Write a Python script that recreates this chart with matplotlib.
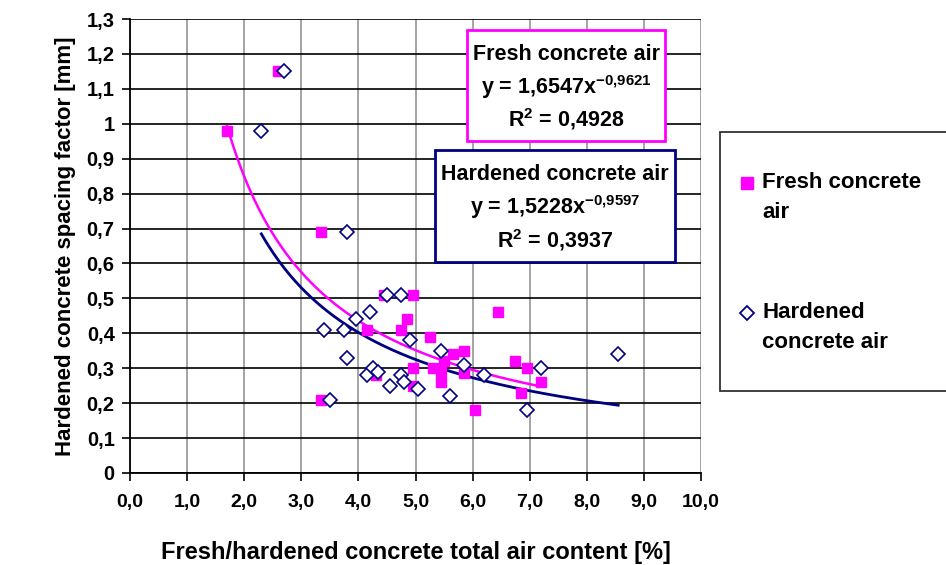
import numpy as np
import matplotlib
matplotlib.use("Agg")
import matplotlib.pyplot as plt
from matplotlib.patches import Rectangle
from matplotlib.lines import Line2D

plt.rcParams['font.family'] = ['Liberation Sans', 'DejaVu Sans']
plt.rcParams['font.weight'] = 'bold'
plt.rcParams['mathtext.fontset'] = 'custom'
plt.rcParams['mathtext.rm'] = 'Liberation Sans:bold'
plt.rcParams['mathtext.it'] = 'Liberation Sans:bold'
plt.rcParams['mathtext.bf'] = 'Liberation Sans:bold'

# fresh concrete air content [%] vs spacing factor [mm]
fresh_x = [1.7, 2.6, 3.35, 3.35, 4.15, 4.3, 4.45, 4.75, 4.85, 4.95, 4.95, 4.95,
           5.25, 5.3, 5.45, 5.45, 5.5, 5.65, 5.85, 5.85, 6.05, 6.45, 6.75, 6.95,
           6.85, 7.2]
fresh_y = [0.98, 1.15, 0.69, 0.21, 0.41, 0.28, 0.51, 0.41, 0.44, 0.51, 0.30, 0.25,
           0.39, 0.30, 0.29, 0.26, 0.32, 0.34, 0.35, 0.285, 0.18, 0.46, 0.32, 0.30,
           0.23, 0.26]

# hardened concrete air content [%] vs spacing factor [mm]
hard_x = [2.3, 2.7, 3.8, 3.4, 3.75, 3.8, 3.5, 3.95, 4.2, 4.15, 4.25, 4.35, 4.5,
          4.75, 4.55, 4.75, 4.8, 4.9, 5.05, 5.45, 5.6, 5.85, 6.2, 6.95, 7.2, 8.55]
hard_y = [0.98, 1.15, 0.69, 0.41, 0.41, 0.33, 0.21, 0.44, 0.46, 0.28, 0.30, 0.29,
          0.51, 0.51, 0.25, 0.28, 0.26, 0.38, 0.24, 0.35, 0.22, 0.31, 0.28, 0.18,
          0.30, 0.34]

# power trend lines y = a * x^b
fresh_a, fresh_b, fresh_r2 = 1.6547, -0.9621, 0.4928
hard_a, hard_b, hard_r2 = 1.5228, -0.9597, 0.3937

x_ticks = np.arange(0, 11, 1)
y_ticks = np.round(np.arange(0, 1.31, 0.1), 1)

MAGENTA = '#FF00FF'
NAVY = '#000080'


def comma(v, digits):
    return f"{v:.{digits}f}".replace('.', ',')


W, H = 946, 565
fig = plt.figure(figsize=(W / 100, H / 100), dpi=100)
ax = fig.add_axes([130 / W, 1 - 473 / H, (701 - 130) / W, (473 - 19) / H])

# trend lines
fx = np.linspace(min(fresh_x), max(fresh_x), 200)
hx = np.linspace(min(hard_x), max(hard_x), 200)
ax.plot(fx, fresh_a * fx ** fresh_b, color=MAGENTA, lw=1.8, zorder=3)
ax.plot(hx, hard_a * hx ** hard_b, color=NAVY, lw=2.0, zorder=3)

ax.plot(fresh_x, fresh_y, 's', color=MAGENTA, ms=7.8, mec=MAGENTA, ls='none', zorder=4)
ax.plot(hard_x, hard_y, 'D', mfc='white', mec=NAVY, mew=1.2, ms=7.3, ls='none', zorder=5)

ax.set_xlim(0, 10)
ax.set_ylim(0, 1.3)
ax.set_xticks(x_ticks)
ax.set_xticklabels([comma(v, 1) for v in x_ticks], fontsize=14, fontweight='bold')
ax.set_yticks(y_ticks)
ax.set_yticklabels(['0' if v == 0 else ('1' if v == 1 else comma(v, 1)) for v in y_ticks],
                   fontsize=14.5, fontweight='bold')
ax.tick_params(axis='both', direction='out', length=6, width=1.2, color='black')
ax.tick_params(axis='x', pad=9)
ax.tick_params(axis='y', pad=5)

ax.set_axisbelow(True)
ax.yaxis.grid(True, color='black', lw=1.2)
ax.xaxis.grid(True, color='#8c8c8c', lw=1.1)
for s in ['top', 'right']:
    ax.spines[s].set_visible(False)
for s in ['left', 'bottom']:
    ax.spines[s].set_linewidth(1.3)

ax.set_xlabel('Fresh/hardened concrete total air content [%]', fontsize=17,
              fontweight='bold', labelpad=22)
ax.set_ylabel('Hardened concrete spacing factor [mm]', fontsize=16,
              fontweight='bold', labelpad=8)


def eq_box(x0, y0, x1, y1, color, title, a, b, r2):
    fig.add_artist(Rectangle((x0 / W, 1 - y1 / H), (x1 - x0) / W, (y1 - y0) / H,
                             transform=fig.transFigure, facecolor='white',
                             edgecolor=color, lw=2, zorder=6))
    cx = (x0 + x1) / 2 / W
    h = (y1 - y0)
    lines = [title,
             r'y = ' + comma(a, 4) + r'x$^{' + comma(b, 4).replace(',', '{,}') + r'}$',
             r'R$^{2}$ = ' + comma(r2, 4)]
    for i, t in enumerate(lines):
        yy = y0 + h * (0.22 + 0.29 * i)
        fig.text(cx, 1 - yy / H, t, ha='center', va='center', fontsize=15.5,
                 fontweight='bold', zorder=7)


eq_box(467, 30, 665, 141, MAGENTA, 'Fresh concrete air', fresh_a, fresh_b, fresh_r2)
eq_box(435, 150, 675, 262, NAVY, 'Hardened concrete air', hard_a, hard_b, hard_r2)

# legend
fig.add_artist(Rectangle((720 / W, 1 - 391 / H), 300 / W, (391 - 132) / H,
                         transform=fig.transFigure, facecolor='white',
                         edgecolor='#333333', lw=1.3, zorder=6))
fig.add_artist(Line2D([747 / W], [1 - 183 / H], marker='s', color=MAGENTA, ms=8.5,
                      ls='none', transform=fig.transFigure, zorder=7))
fig.add_artist(Line2D([747 / W], [1 - 313 / H], marker='D', mfc='white', mec=NAVY,
                      mew=1.3, ms=7.5, ls='none', transform=fig.transFigure, zorder=7))
for txt, yy in [('Fresh concrete', 183), ('air', 213), ('Hardened', 313), ('concrete air', 343)]:
    fig.text(762 / W, 1 - yy / H, txt, ha='left', va='center', fontsize=16,
             fontweight='bold', zorder=7)

fig.savefig('out.png', dpi=100)
